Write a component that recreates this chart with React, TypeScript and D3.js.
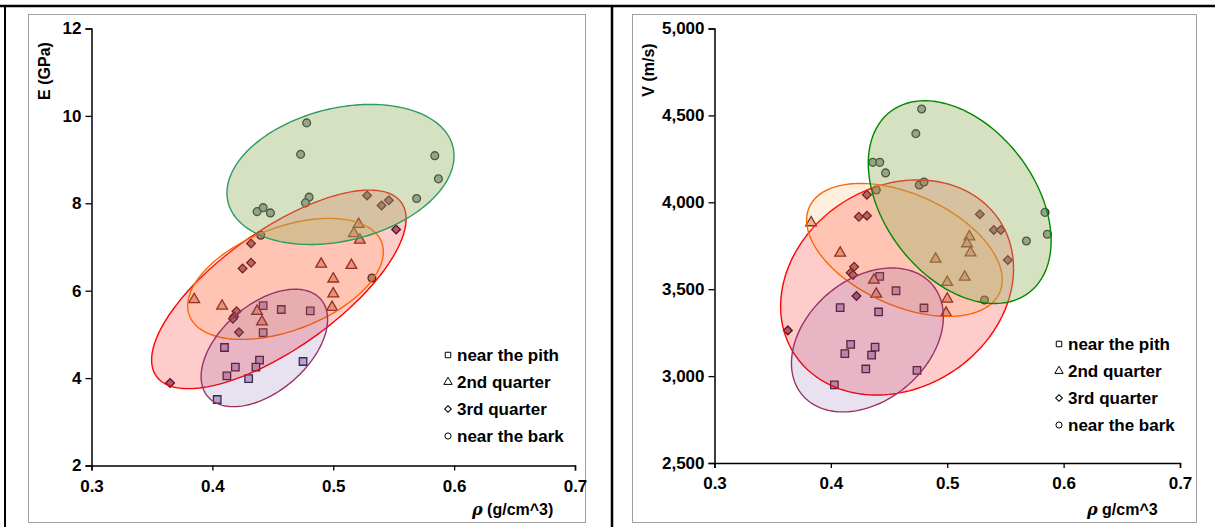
import React, { useEffect, useRef } from 'react'
import * as d3 from 'd3'

// density (g/cm^3) vs modulus E (GPa)
const leftPith = [[0.442, 5.66], [0.457, 5.57], [0.481, 5.54], [0.442, 5.04], [0.410, 4.70], [0.439, 4.41], [0.475, 4.38], [0.419, 4.25], [0.436, 4.25], [0.412, 4.05], [0.430, 3.99], [0.404, 3.51]]
const leftSecond = [[0.521, 7.52], [0.517, 7.31], [0.522, 7.16], [0.490, 6.61], [0.515, 6.58], [0.500, 6.27], [0.500, 5.93], [0.499, 5.62], [0.385, 5.80], [0.408, 5.65], [0.437, 5.53], [0.441, 5.29]]
const leftThird = [[0.528, 8.18], [0.546, 8.07], [0.540, 7.95], [0.552, 7.40], [0.432, 7.08], [0.432, 6.64], [0.425, 6.51], [0.420, 5.53], [0.418, 5.41], [0.417, 5.36], [0.422, 5.05], [0.365, 3.89]]
const leftBark = [[0.478, 9.84], [0.473, 9.12], [0.584, 9.09], [0.587, 8.56], [0.569, 8.11], [0.480, 8.14], [0.477, 8.01], [0.437, 7.81], [0.442, 7.90], [0.448, 7.78], [0.440, 7.27], [0.532, 6.29]]

// density (g/cm^3) vs velocity V (m/s)
const rightPith = [[0.442, 3574], [0.456, 3491], [0.408, 3394], [0.441, 3369], [0.480, 3392], [0.417, 3183], [0.438, 3167], [0.412, 3129], [0.435, 3121], [0.430, 3041], [0.474, 3033], [0.403, 2949]]
const rightSecond = [[0.383, 3883], [0.408, 3708], [0.519, 3802], [0.517, 3762], [0.520, 3710], [0.490, 3674], [0.515, 3570], [0.500, 3540], [0.437, 3553], [0.439, 3472], [0.500, 3444], [0.499, 3363]]
const rightThird = [[0.431, 4044], [0.424, 3917], [0.431, 3923], [0.528, 3931], [0.540, 3841], [0.546, 3841], [0.552, 3668], [0.420, 3629], [0.417, 3595], [0.419, 3582], [0.422, 3461], [0.363, 3263]]
const rightBark = [[0.478, 4537], [0.473, 4395], [0.436, 4230], [0.442, 4230], [0.447, 4169], [0.476, 4100], [0.480, 4117], [0.439, 4071], [0.584, 3942], [0.586, 3816], [0.568, 3777], [0.532, 3438]]

// group ellipses: centre + two semi-axis vectors, in data units
const leftEllipses = [
  { group: 'second', cx: 0.455, cy: 6.03, ux: 0.1014, uy: 1.986, vx: 0.0283, vy: -1.104 },
  { group: 'third', cx: 0.4605, cy: 6.27, ux: 0.0795, uy: 0.840, vx: 0.0152, vy: -1.101 },
  { group: 'pith', cx: 0.443, cy: 4.69, ux: 0.0468, uy: 1.111, vx: 0.0234, vy: -0.756 },
  { group: 'bark', cx: 0.506, cy: 8.66, ux: 0.0930, uy: 0.636, vx: 0.0132, vy: -1.471 }
]
const rightEllipses = [
  { group: 'second', cx: 0.4569, cy: 3510, ux: 0.0884, uy: 381.5, vx: 0.0469, vy: -487.3 },
  { group: 'third', cx: 0.4632, cy: 3726, ux: 0.0817, uy: -247.0, vx: -0.0197, vy: -292.1 },
  { group: 'pith', cx: 0.4314, cy: 3208, ux: 0.0559, uy: 317.0, vx: 0.0337, vy: -266.4 },
  { group: 'bark', cx: 0.5107, cy: 4001, ux: 0.0595, uy: -521, vx: -0.0513, vy: -262.4 }
]

const legendLabels = ['near the pith', '2nd quarter', '3rd quarter', 'near the bark']
const xTicks = [0.3, 0.4, 0.5, 0.6, 0.7]
const leftYTicks = [2, 4, 6, 8, 10, 12]
const rightYTicks = [2500, 3000, 3500, 4000, 4500, 5000]

const ellipseStyle = {
  second: { stroke: '#ff0000', fill: '#ff0000', op: 0.2 },
  third: { stroke: '#ff6600', fill: '#ff9933', op: 0.16 },
  pith: { stroke: '#993366', fill: '#663399', op: 0.15 },
  bark: { stroke: '#2e9960', fill: '#99b366', op: 0.4 }
}

// diamonds are squares turned by 45 degrees
const markerStyle = [
  { type: d3.symbolSquare, size: 56, rot: 0, fill: '#c4b6d8', stroke: '#33283a' },
  { type: d3.symbolTriangle, size: 50, rot: 0, fill: '#e8b4aa', stroke: '#5a2626' },
  { type: d3.symbolSquare, size: 38, rot: 45, fill: '#a07088', stroke: '#2a1826' },
  { type: d3.symbolCircle, size: 48, rot: 0, fill: '#8c9ca6', stroke: '#1e1e1e' }
]

const font = 'Liberation Sans, Arial, sans-serif'

function drawPanel (svg, cfg) {
  const { x, y, yTicks, yFmt, series, ellipses, yTitle, xTitle, legend, barkStroke } = cfg
  const g = svg.append('g')

  // points
  series.forEach((pts, i) => {
    const m = markerStyle[i]
    g.selectAll(null).data(pts).enter().append('path')
      .attr('transform', d => `translate(${x(d[0])},${y(d[1])}) rotate(${m.rot})`)
      .attr('d', d3.symbol().type(m.type).size(m.size))
      .attr('fill', m.fill)
      .attr('stroke', m.stroke)
      .attr('stroke-width', 1.3)
  })

  // ellipses
  const ts = d3.range(0, 2 * Math.PI, Math.PI / 90)
  const line = d3.line().curve(d3.curveLinearClosed)
  ellipses.forEach(e => {
    const st = ellipseStyle[e.group]
    const pts = ts.map(t => [
      x(e.cx + e.ux * Math.cos(t) + e.vx * Math.sin(t)),
      y(e.cy + e.uy * Math.cos(t) + e.vy * Math.sin(t))
    ])
    g.append('path')
      .attr('d', line(pts))
      .attr('fill', st.fill)
      .attr('fill-opacity', st.op)
      .attr('stroke', e.group === 'bark' ? barkStroke : st.stroke)
      .attr('stroke-width', 1.4)
  })

  // axes
  const xAxis = g.append('g')
    .attr('transform', `translate(0,${y.range()[0]})`)
    .call(d3.axisBottom(x).tickValues(xTicks).tickFormat(d3.format('.1f')).tickSize(5).tickPadding(9))
  const yAxis = g.append('g')
    .attr('transform', `translate(${x.range()[0]},0)`)
    .call(d3.axisLeft(y).tickValues(yTicks).tickFormat(yFmt).tickSize(6).tickPadding(4))
  ;[xAxis, yAxis].forEach(a => {
    a.select('.domain').attr('stroke', '#000').attr('stroke-width', 1.5)
    a.selectAll('.tick line').attr('stroke', '#000').attr('stroke-width', 1.3)
    a.selectAll('text').attr('font-family', font).attr('font-size', 17)
      .attr('font-weight', 'bold').attr('fill', '#000')
  })

  // titles
  g.append('text')
    .attr('transform', `translate(${yTitle.x},${yTitle.y}) rotate(-90)`)
    .attr('text-anchor', 'middle').attr('dominant-baseline', 'central')
    .attr('font-family', font).attr('font-size', 16).attr('font-weight', 'bold')
    .text(yTitle.text)
  const xt = g.append('text')
    .attr('x', xTitle.x).attr('y', xTitle.y)
    .attr('font-family', font).attr('font-size', 16).attr('font-weight', 'bold')
  xt.append('tspan').attr('font-style', 'italic').attr('font-family', 'DejaVu Serif, serif').text('ρ')
  xt.append('tspan').text(xTitle.text)

  // legend
  legendLabels.forEach((lab, i) => {
    const ly = legend.y + i * 27
    const m = markerStyle[i]
    g.append('path')
      .attr('transform', `translate(${legend.x},${ly}) rotate(${m.rot})`)
      .attr('d', d3.symbol().type(m.type).size(m.rot ? 22 : 30))
      .attr('fill', '#fff').attr('stroke', '#000').attr('stroke-width', 1)
    g.append('text')
      .attr('x', legend.x + 9).attr('y', ly)
      .attr('dominant-baseline', 'central')
      .attr('font-family', font).attr('font-size', 17).attr('font-weight', 'bold')
      .text(lab)
  })
}

const App = () => {
  const ref = useRef(null)

  useEffect(() => {
    const svg = d3.select(ref.current)
    svg.selectAll('*').remove()

    // frame
    svg.append('rect').attr('width', 1215).attr('height', 527).attr('fill', '#fff')
    svg.append('line').attr('x1', 0).attr('x2', 1215).attr('y1', 6).attr('y2', 6).attr('stroke', '#000').attr('stroke-width', 2.5)
    svg.append('line').attr('x1', 5).attr('x2', 5).attr('y1', 6).attr('y2', 527).attr('stroke', '#000').attr('stroke-width', 2)
    svg.append('line').attr('x1', 612).attr('x2', 612).attr('y1', 6).attr('y2', 527).attr('stroke', '#000').attr('stroke-width', 2.5)
    svg.append('rect').attr('x', 28.5).attr('y', 14.5).attr('width', 557).attr('height', 508).attr('fill', 'none').attr('stroke', '#a0a0a0')
    svg.append('rect').attr('x', 632.5).attr('y', 14.5).attr('width', 564).attr('height', 508).attr('fill', 'none').attr('stroke', '#a0a0a0')

    drawPanel(svg, {
      x: d3.scaleLinear().domain([0.3, 0.7]).range([91.5, 575]),
      y: d3.scaleLinear().domain([2, 12]).range([465.5, 28.5]),
      yTicks: leftYTicks,
      yFmt: d3.format('d'),
      series: [leftPith, leftSecond, leftThird, leftBark],
      ellipses: leftEllipses,
      yTitle: { x: 44, y: 71, text: 'E (GPa)' },
      xTitle: { x: 472, y: 515, text: ' (g/cm^3)' },
      legend: { x: 448, y: 355 },
      barkStroke: '#2e9960'
    })
    drawPanel(svg, {
      x: d3.scaleLinear().domain([0.3, 0.7]).range([714.5, 1180]),
      y: d3.scaleLinear().domain([2500, 5000]).range([463, 28.5]),
      yTicks: rightYTicks,
      yFmt: d3.format(','),
      series: [rightPith, rightSecond, rightThird, rightBark],
      ellipses: rightEllipses,
      yTitle: { x: 648, y: 70, text: 'V (m/s)' },
      xTitle: { x: 1087, y: 515, text: ' g/cm^3' },
      legend: { x: 1059, y: 344 },
      barkStroke: '#008800'
    })
  }, [])

  return (
    <svg ref={ref} width={1215} height={527} style={{ position: 'absolute', left: 0, top: 0 }} />
  )
}

export default App
